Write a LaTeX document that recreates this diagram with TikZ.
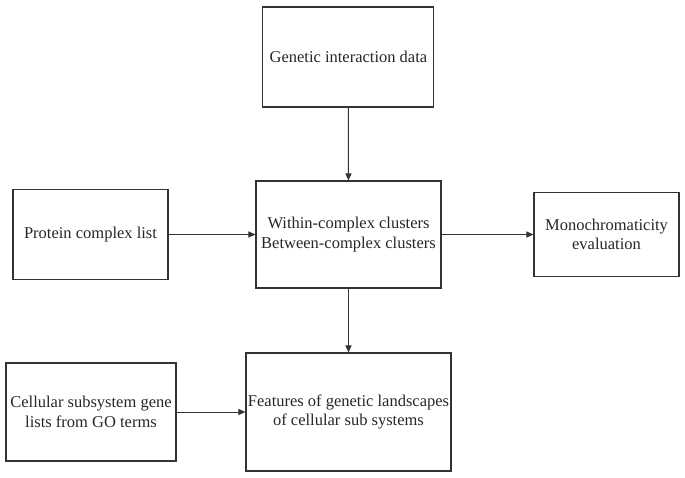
\documentclass[tikz,border=0pt]{standalone}
\usepackage{fontspec}
\setmainfont{Liberation Serif}
\usetikzlibrary{arrows.meta}
\begin{document}
\begin{tikzpicture}[x=1pt,y=-1pt,
  box/.style={draw=black!80, line width=1.1pt, inner sep=0pt, align=center,
    font=\rmfamily\fontsize{16.5}{19.5}\selectfont, text=black!85},
  conn/.style={draw=black!80, line width=1pt, -{Triangle[length=7pt,width=6pt]}}]
\useasboundingbox (0,0) rectangle (685,477);
\node[box, minimum width=171pt, minimum height=100pt] (gid) at (348.4,57) {Genetic interaction data};
\node[box, minimum width=185pt, minimum height=107pt] (clu) at (348.5,234.5) {Within-complex clusters\\Between-complex clusters};
\node[box, minimum width=155pt, minimum height=90pt] (pcl) at (90.5,234.5) {Protein complex list};
\node[box, minimum width=145pt, minimum height=84pt] (mon) at (606.5,234.5) {Monochromaticity\\evaluation};
\node[box, minimum width=170pt, minimum height=98pt] (csg) at (91,412) {Cellular subsystem gene\\lists from GO terms};
\node[box, minimum width=205pt, minimum height=118pt] (fea) at (348.5,412) {Features of genetic landscapes\\of cellular sub systems};
\draw[conn] (gid) -- (clu);
\draw[conn] (pcl) -- (clu);
\draw[conn] (clu) -- (mon);
\draw[conn] (clu) -- (fea);
\draw[conn] (csg) -- (fea);
\end{tikzpicture}
\end{document}
